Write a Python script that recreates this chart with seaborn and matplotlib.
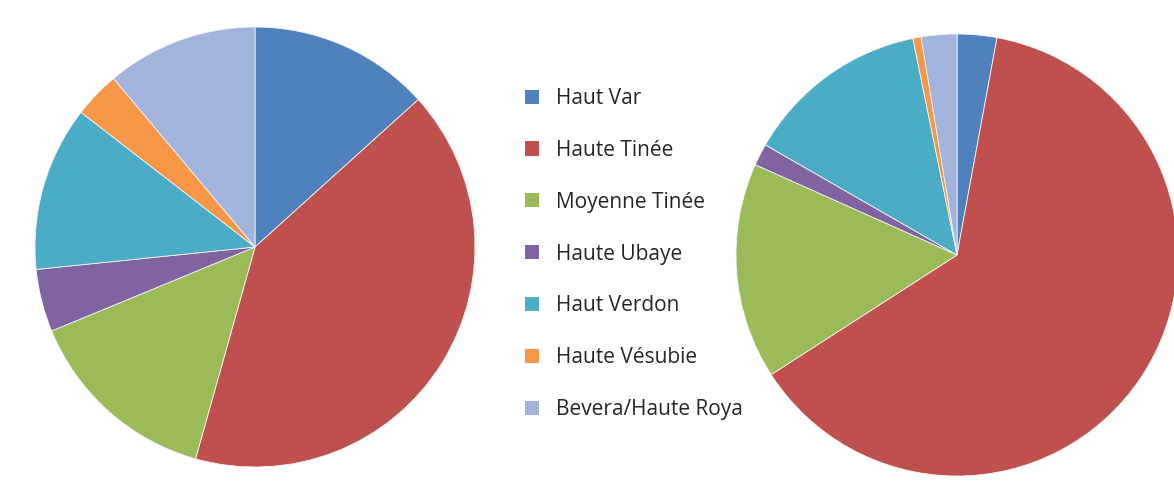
import matplotlib
matplotlib.use("Agg")
import matplotlib.pyplot as plt
import seaborn as sns

# Répartition par secteur (en %)
secteurs = ["Haut Var", "Haute Tinée", "Moyenne Tinée", "Haute Ubaye",
            "Haut Verdon", "Haute Vésubie", "Bevera/Haute Roya"]
part_gauche = [13.3, 41.0, 14.4, 4.6, 12.1, 3.4, 11.1]
part_droite = [2.9, 63.0, 15.8, 1.6, 13.5, 0.6, 2.6]

couleurs = ["#4F81BD", "#C0504D", "#9BBB59", "#8064A2",
            "#4BACC6", "#F79646", "#A3B4DC"]

sns.set_theme(style="white")
plt.rcParams["font.family"] = ["Open Sans", "DejaVu Sans"]

W, H = 1174, 486
fig = plt.figure(figsize=(W / 100, H / 100), dpi=100)
fig.patch.set_facecolor("white")


def axe_camembert(cx, cy, r):
    return fig.add_axes([(cx - r) / W, (H - cy - r) / H, 2 * r / W, 2 * r / H])


def fixer_cadre(ax):
    ax.set_xlim(-1, 1)
    ax.set_ylim(-1, 1)
    ax.set_aspect("equal")
    ax.axis("off")


ax1 = axe_camembert(255, 247, 220)
ax2 = axe_camembert(957, 255, 221)

props = dict(edgecolor="#f4f4f4", linewidth=0.6)
parts1, _ = ax1.pie(part_gauche, colors=couleurs, startangle=90,
                    counterclock=False, radius=1, wedgeprops=props)
ax2.pie(part_droite, colors=couleurs, startangle=90,
        counterclock=False, radius=1, wedgeprops=props)
fixer_cadre(ax1)
fixer_cadre(ax2)

leg = fig.legend(parts1, secteurs, loc="upper left",
                 bbox_to_anchor=(525 / W, 1 - 88 / H), frameon=False,
                 fontsize=15, handlelength=0.67, handleheight=0.67,
                 handletextpad=0.8, labelspacing=1.48, borderpad=0,
                 borderaxespad=0)
for t in leg.get_texts():
    t.set_color("#262626")
for h in leg.legend_handles:
    h.set_edgecolor("none")

fig.savefig("out.png", dpi=100, facecolor="white")
